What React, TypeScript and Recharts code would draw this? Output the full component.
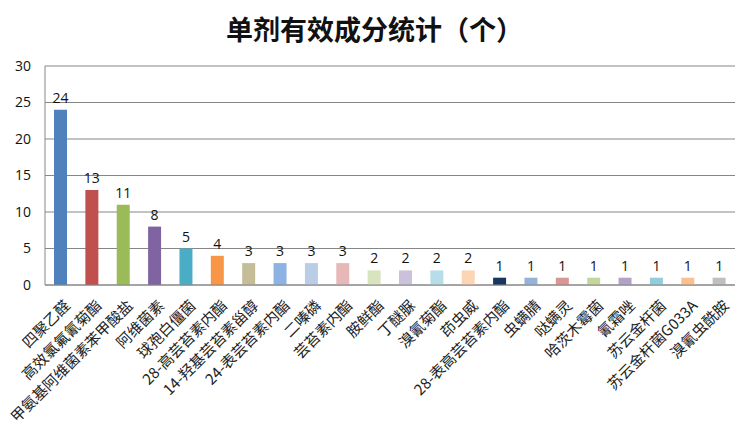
import { BarChart, Bar, XAxis, YAxis, CartesianGrid, Cell, LabelList } from 'recharts';

// 单剂有效成分统计
const names = [
  '四聚乙醛', '高效氯氟氰菊酯', '甲氨基阿维菌素苯甲酸盐', '阿维菌素', '球孢白僵菌',
  '28-高芸苔素内酯', '14-羟基芸苔素甾醇', '24-表芸苔素内酯', '二嗪磷', '芸苔素内酯',
  '胺鲜酯', '丁醚脲', '溴氰菊酯', '茚虫威', '28-表高芸苔素内酯', '虫螨腈', '哒螨灵',
  '哈茨木霉菌', '氰霜唑', '苏云金杆菌', '苏云金杆菌G033A', '溴氰虫酰胺',
];
const counts = [24, 13, 11, 8, 5, 4, 3, 3, 3, 3, 2, 2, 2, 2, 1, 1, 1, 1, 1, 1, 1, 1];
const colors = [
  '#4F81BD', '#C0504D', '#9BBB59', '#8064A2', '#4BACC6', '#F79646', '#C4BD97', '#8DB3E2',
  '#B9CDE5', '#E6B9B8', '#D7E4BD', '#CCC1DA', '#B7DEE8', '#FCD5B5', '#17375E', '#95B3D7',
  '#D99694', '#C3D69B', '#B3A2C7', '#93CDDD', '#FAC090', '#BFBFBF',
];
const yTicks = [0, 5, 10, 15, 20, 25, 30];

const data = names.map((name, i) => ({ name, value: counts[i] }));

const cjk = '"Noto Sans CJK SC", sans-serif';

const NameTick = (props: any) => {
  const { x, y, payload } = props;
  return (
    <g transform={`translate(${x + 7},${y + 10})`}>
      <text
        textAnchor="end"
        transform="rotate(-45)"
        fontSize={15}
        fontFamily={cjk}
        fill="#222"
        dy={5}
      >
        {payload.value}
      </text>
    </g>
  );
};

const App = () => {
  return (
    <div style={{ position: 'absolute', left: 0, top: 0, width: 749, height: 445, background: '#fff' }}>
      <div
        style={{
          position: 'absolute', left: 0, top: 9, width: 749, textAlign: 'center',
          fontSize: 27, fontFamily: cjk, fontWeight: 700, color: '#111',
        }}
      >
        单剂有效成分统计（个）
      </div>
      <BarChart
        width={749}
        height={445}
        data={data}
        margin={{ top: 66, right: 14, bottom: 0, left: 0 }}
      >
        <CartesianGrid vertical={false} stroke="#868686" />
        <XAxis
          dataKey="name"
          interval={0}
          height={160}
          tickLine={false}
          axisLine={{ stroke: '#868686' }}
          tick={<NameTick />}
        />
        <YAxis
          width={45}
          domain={[0, 30]}
          ticks={yTicks}
          tickLine={false}
          axisLine={{ stroke: '#868686' }}
          tick={{ fill: '#111', fontSize: 14, fontFamily: '"Open Sans", sans-serif' }}
          tickMargin={8}
        />
        <Bar dataKey="value" barSize={13} isAnimationActive={false}>
          {data.map((d, i) => (
            <Cell key={d.name} fill={colors[i]} />
          ))}
          <LabelList
            dataKey="value"
            position="top"
            offset={7}
            fill="#111"
            fontSize={14}
            fontFamily='"Open Sans", sans-serif'
          />
        </Bar>
      </BarChart>
    </div>
  );
};

export default App;
